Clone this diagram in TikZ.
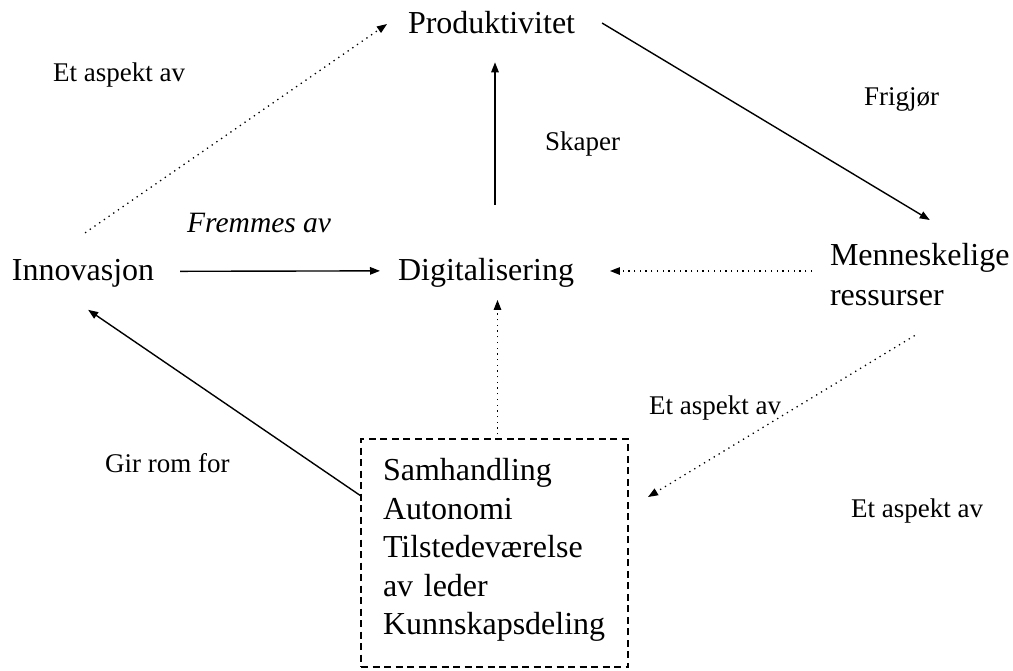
\documentclass[tikz,border=0pt]{standalone}
\usepackage{fontspec}
\setmainfont{Liberation Serif}
\usetikzlibrary{arrows.meta,calc}
\begin{document}
\begin{tikzpicture}[x=1pt,y=-1pt,
  concept/.style={inner sep=0pt, outer sep=0pt, anchor=base west,
    font=\fontsize{32}{38.5}\selectfont},
  lbl/.style={inner sep=0pt, anchor=base west, font=\fontsize{27}{32}\selectfont},
  tip/.style={-{Triangle[length=10pt,width=7.5pt]}},
  solidarrow/.style={tip, line width=1.4pt},
  dotarrow/.style={tip, line width=1.3pt, dash pattern=on 1.3pt off 4.4pt},
  factorbox/.style={draw, line width=1.4pt, dash pattern=on 7pt off 4.5pt,
    inner xsep=22pt, inner ysep=0pt, outer sep=0pt, align=left,
    minimum width=267pt, minimum height=228pt, text width=223pt,
    font=\fontsize{32}{38.5}\selectfont}]
\useasboundingbox (0,0) rectangle (1013,670);

% concepts
\node[concept] (prod)  at (408,33)  {Produktivitet};
\node[concept] (innov) at (12,280)  {Innovasjon};
\node[concept] (digi)  at (398,280) {Digitalisering};
\node[concept, anchor=north west, align=left, font=\fontsize{32}{40}\selectfont]
  (menn) at (830,243) {Menneskelige\\ressurser};
\node[factorbox, anchor=north west] (box) at (361,439)
  {Samhandling\\Autonomi\\Tilstedeværelse\\av leder\\Kunnskapsdeling\rule[-13pt]{0pt}{13pt}};

% relation labels
\node[lbl] (l1) at (53,81)   {Et aspekt av};
\node[lbl] (l2) at (545,150) {Skaper};
\node[lbl] (l3) at (864,105) {Frigjør};
\node[lbl, font=\fontsize{29.5}{34}\selectfont\itshape] (l4) at (187,232) {Fremmes av};
\node[lbl] (l5) at (105,472) {Gir rom for};
\node[lbl] (l6) at (649,414) {Et aspekt av};
\node[lbl] (l7) at (851,517) {Et aspekt av};

% connectors
\draw[dotarrow] ([xshift=2pt,yshift=26pt]innov.north) -- ([xshift=-21pt,yshift=-2pt]prod.west);
\draw[solidarrow] ([xshift=27pt,yshift=-1pt]prod.east) -- ([xshift=10pt,yshift=23pt]menn.north);
\coordinate (dtop) at ([xshift=9pt,yshift=53pt]digi.north);
\draw[solidarrow] (dtop) -- ($(dtop |- prod.south)+(0,29)$);
\draw[solidarrow] ([xshift=26pt,yshift=1.5pt]innov.east) -- ([xshift=-18pt,yshift=1.5pt]digi.west);
\coordinate (mleft) at ([xshift=-18pt,yshift=-28pt]menn.north west);
\draw[dotarrow] (mleft) -- ($(mleft -| digi.east)+(36,0)$);
\coordinate (btop) at ([xshift=3pt,yshift=-1pt]box.north);
\draw[dotarrow] (btop) -- ($(btop |- digi.south)+(0,13)$);
\draw[dotarrow] ([xshift=-5pt,yshift=-30pt]menn.south) -- ([xshift=20pt,yshift=56pt]box.east);
\draw[solidarrow] ([yshift=57pt]box.west) -- ([xshift=5pt,yshift=-23pt]innov.south);
\end{tikzpicture}
\end{document}
